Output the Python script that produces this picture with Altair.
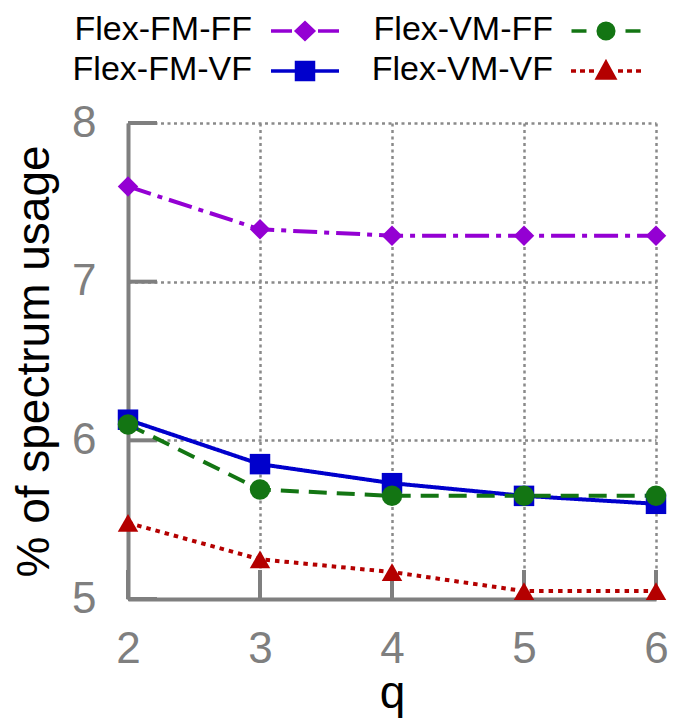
import altair as alt
import pandas as pd

# ---- data ----
q_values = [2, 3, 4, 5, 6]
series_names = ["Flex-FM-FF", "Flex-FM-VF", "Flex-VM-FF", "Flex-VM-VF"]
fm_ff = [7.60, 7.33, 7.29, 7.29, 7.29]
fm_vf = [6.13, 5.85, 5.73, 5.65, 5.60]
vm_ff = [6.10, 5.69, 5.65, 5.65, 5.65]
vm_vf = [5.48, 5.25, 5.17, 5.05, 5.05]
y_ticks = [5, 6, 7, 8]
x_ticks = [2, 3, 4, 5, 6]

# ---- styles ----
colors = ["#9400d3", "#0000cc", "#137513", "#b40000"]
shapes = ["diamond", "square", "circle", "triangle-up"]
dashes = [[24, 7, 5, 7], [1, 0], [18, 10], [4.5, 5]]
legend_paths = [
    "M-3.4,0L-1.3,0M1.3,0L3.4,0M-0.85,0L0,-0.8L0.85,0L0,0.8Z",
    "M-3.4,0L3.4,0M-0.85,-0.85L0.85,-0.85L0.85,0.85L-0.85,0.85Z",
    "M-3.45,0L-1.95,0M1.95,0L3.45,0M0.78,0A0.78,0.78,0,1,1,-0.78,0A0.78,0.78,0,1,1,0.78,0Z",
    "M-3.5,0L-3.0,0M-2.6,0L-2.1,0M-1.7,0L-1.2,0M1.2,0L1.7,0M2.1,0L2.6,0M3.0,0L3.5,0M0,-0.85L0.85,0.7L-0.85,0.7Z",
]
FONT = "Liberation Sans"
GRAY = "#7f7f7f"

rows = []
for name, vals in zip(series_names, [fm_ff, fm_vf, vm_ff, vm_vf]):
    for qv, v in zip(q_values, vals):
        rows.append({"q": qv, "value": v, "series": name})
df = pd.DataFrame(rows)

# legend grid: two columns, label on the left of its symbol
legend_df = pd.DataFrame({
    "series": series_names,
    "col": [i // 2 for i in range(len(series_names))],
    "row": [i % 2 for i in range(len(series_names))],
})

color_scale = alt.Scale(domain=series_names, range=colors)

x_enc = alt.X("q:Q", scale=alt.Scale(domain=[2, 6], nice=False, zero=False),
              axis=alt.Axis(values=x_ticks, format="d", title="q", labelFont=FONT,
                            labelFontSize=44, labelColor=GRAY, labelPadding=28, ticks=False,
                            tickSize=0, domainColor=GRAY, domainWidth=4, gridColor="#8a8a8a",
                            gridDash=[3, 3.5], gridWidth=2.5, titleFont=FONT,
                            titleFontSize=46, titleFontWeight="normal", titleColor="black",
                            titlePadding=0, labelFlush=False))
y_enc = alt.Y("value:Q", scale=alt.Scale(domain=[5, 8], nice=False, zero=False),
              axis=alt.Axis(values=y_ticks, format="d", title="% of spectrum usage",
                            labelFont=FONT, labelFontSize=44, labelColor=GRAY,
                            labelPadding=32, ticks=False, tickSize=0, domainColor=GRAY,
                            domainWidth=4, gridColor="#8a8a8a", gridDash=[3, 3.5],
                            gridWidth=2.5, titleFont=FONT, titleFontSize=46,
                            titleFontWeight="normal", titleColor="black", titlePadding=13,
                            labelFlush=False))

base = alt.Chart(df)

ytick_layer = alt.Chart(pd.DataFrame({"v": y_ticks})).mark_rule(
    color=GRAY, strokeWidth=4).encode(
    y=alt.Y("v:Q"), x=alt.value(0), x2=alt.value(29))
xtick_layer = alt.Chart(pd.DataFrame({"v": x_ticks})).mark_rule(
    color=GRAY, strokeWidth=4).encode(
    x=alt.X("v:Q"), y=alt.value(476), y2=alt.value(447))

lines = base.mark_line(strokeWidth=4).encode(
    x=x_enc, y=y_enc,
    color=alt.Color("series:N", scale=color_scale, legend=None),
    strokeDash=alt.StrokeDash("series:N", scale=alt.Scale(domain=series_names, range=dashes),
                              legend=None),
)

point_layers = []
for name, shp in zip(series_names, shapes):
    point_layers.append(
        base.transform_filter(alt.datum.series == name)
        .mark_point(filled=True, opacity=1, size=420, shape=shp)
        .encode(x=x_enc, y=y_enc,
                color=alt.Color("series:N", scale=color_scale, legend=None))
    )

main = alt.layer(ytick_layer, xtick_layer, lines, *point_layers)

# hand-built legend above the plot
lx = alt.X("col:O", scale=alt.Scale(type="point", range=[124, 425], padding=0), axis=None)
ly = alt.Y("row:O", scale=alt.Scale(type="point", range=[-93, -53], padding=0), axis=None)
leg = alt.Chart(legend_df)
leg_text = leg.mark_text(align="right", baseline="middle", font=FONT, fontSize=34,
                         color="black").encode(x=lx, y=ly, text="series:N")
leg_sym = leg.mark_point(filled=True, opacity=1, size=400, strokeWidth=3.5,
                         xOffset=53, yOffset=1).encode(
    x=lx, y=ly,
    shape=alt.Shape("series:N", scale=alt.Scale(domain=series_names, range=legend_paths),
                    legend=None),
    fill=alt.Fill("series:N", scale=alt.Scale(domain=series_names, range=colors), legend=None),
    stroke=alt.Stroke("series:N", scale=alt.Scale(domain=series_names, range=colors),
                      legend=None),
)
legend_block = alt.layer(leg_text, leg_sym)

chart = alt.layer(main, legend_block).resolve_scale(
    x="independent", y="independent"
).properties(
    width=528, height=476,
    padding={"left": 120, "top": 115, "right": 15, "bottom": 125},
    autosize=alt.AutoSizeParams(type="none"),
).configure_view(strokeWidth=0)

chart.save("out.html", embed_options={"renderer": "svg", "actions": False})
